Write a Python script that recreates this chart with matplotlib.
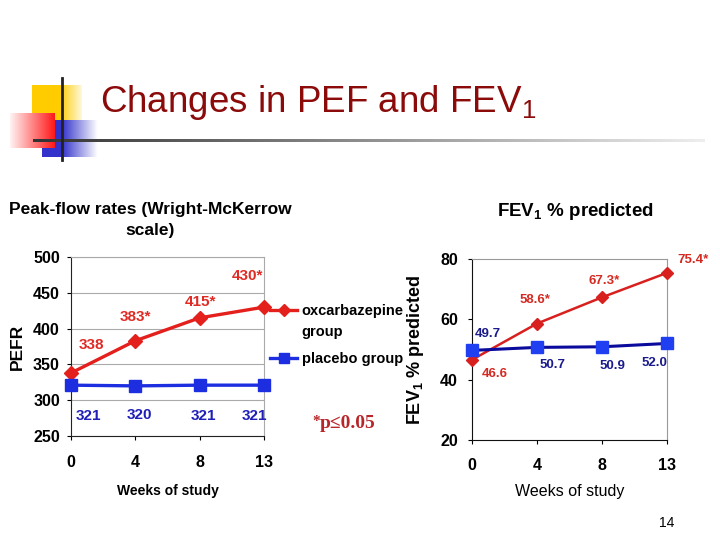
import numpy as np
import matplotlib
matplotlib.use('Agg')
import matplotlib.pyplot as plt

plt.rcParams['font.family'] = ['Liberation Sans', 'DejaVu Sans']
plt.rcParams['mathtext.fontset'] = 'custom'
plt.rcParams['mathtext.rm'] = 'Liberation Sans'
plt.rcParams['mathtext.bf'] = 'Liberation Sans:bold'

# data
weeks = ['0', '4', '8', '13']
pef_oxc = [338, 383, 415, 430]
pef_plc = [321, 320, 321, 321]
pef_oxc_lbl = ['338', '383*', '415*', '430*']
pef_plc_lbl = ['321', '320', '321', '321']
fev_oxc = [46.6, 58.6, 67.3, 75.4]
fev_plc = [49.7, 50.7, 50.9, 52.0]
fev_oxc_lbl = ['46.6', '58.6*', '67.3*', '75.4*']
fev_plc_lbl = ['49.7', '50.7', '50.9', '52.0']

fig = plt.figure(figsize=(7.2, 5.4), dpi=100)

# slide decoration
bg = fig.add_axes([0, 0, 1, 1], zorder=-1)
bg.set_xlim(0, 720)
bg.set_ylim(540, 0)
bg.axis('off')

def grad(c0, c1, n=64, stop=0.0):
    t = np.clip((np.linspace(0, 1, n) - stop) / (1 - stop), 0, 1)
    img = np.array(c0)[None, :] * (1 - t)[:, None] + np.array(c1)[None, :] * t[:, None]
    return img[None, :, :]

bg.imshow(grad((1, 0.8, 0.0), (1, 0.97, 0.85), stop=0.55), extent=(32, 82, 120, 85), aspect='auto')
bg.imshow(grad((0.2, 0.2, 0.8), (1, 1, 1), stop=0.35), extent=(42, 98, 157, 120), aspect='auto')
bg.imshow(grad((1, 0.95, 0.95), (1, 0.1, 0.1)), extent=(10, 55, 148, 113), aspect='auto')
bg.imshow(grad((0.2, 0.2, 0.2), (0.93, 0.93, 0.93)), extent=(33, 705, 142.5, 139.5), aspect='auto')
bg.plot([62, 62], [78, 160], color='#222222', lw=2)

fig.text(100 / 720, 1 - 102 / 540, 'Changes in PEF and FEV$_1$', color='#8b0a0a',
         fontsize=26.5, ha='left', va='center')
fig.text(667 / 720, 1 - 523 / 540, '14', fontsize=10, ha='center', va='center')

red = '#e4201c'
blue = '#1c2ee0'

# left chart: PEF
ax1 = fig.add_axes([71 / 720, 1 - 436 / 540, 193 / 720, 179 / 540])
l_oxc, = ax1.plot(weeks, pef_oxc, color=red, lw=2.4, marker='D', ms=7, zorder=3, clip_on=False)
l_plc, = ax1.plot(weeks, pef_plc, color=blue, lw=2.4, marker='s', ms=8.5, zorder=3, clip_on=False)
ax1.set_xlim(0, 3)
ax1.set_ylim(250, 500)
ax1.set_yticks([250, 300, 350, 400, 450, 500])
ax1.yaxis.grid(True, color='#aaaaaa', lw=0.8)
ax1.set_axisbelow(True)
for s in ['top', 'right']:
    ax1.spines[s].set_color('#aaaaaa')
for s in ['left', 'bottom']:
    ax1.spines[s].set_color('#222222')
ax1.tick_params(labelsize=11.5, length=3, pad=5)
ax1.tick_params(axis='x', pad=11)
for lab in ax1.get_xticklabels() + ax1.get_yticklabels():
    lab.set_fontweight('bold')
ax1.set_xlabel('Weeks of study', fontsize=10, fontweight='bold', labelpad=10)
ax1.set_ylabel('PEFR', fontsize=12.5, fontweight='bold', labelpad=6)
fig.text(150 / 720, 1 - 220 / 540, 'Peak-flow rates (Wright-McKerrow\nscale)', fontsize=12.5,
         fontweight='bold', ha='center', va='center', linespacing=1.55)

off_oxc1 = [(20, 28), (0, 24), (1, 16), (-16, 31)]
off_plc1 = [(17, -31), (4, -29), (4, -31), (-10, -31)]
for x, v, t, o in zip(weeks, pef_oxc, pef_oxc_lbl, off_oxc1):
    ax1.annotate(t, (x, v), xytext=o, textcoords='offset pixels', ha='center', va='center',
                 color='#e02a24', fontsize=11, fontweight='bold')
for x, v, t, o in zip(weeks, pef_plc, pef_plc_lbl, off_plc1):
    ax1.annotate(t, (x, v), xytext=o, textcoords='offset pixels', ha='center', va='center',
                 color='#2020b8', fontsize=11, fontweight='bold')

leg = ax1.legend([l_oxc, l_plc], ['oxcarbazepine', 'placebo group'], loc='upper left',
                 bbox_to_anchor=(1.03, 0.735), frameon=False, borderpad=0, borderaxespad=0,
                 handlelength=1.9, handletextpad=0.3, labelspacing=2.3, numpoints=1,
                 markerscale=0.85, prop={'size': 10.5, 'weight': 'bold'})
ax1.text(1.195, 0.58, 'group', transform=ax1.transAxes, fontsize=10.5, fontweight='bold',
         ha='left', va='center')
ax1.text(1.25, 0.08, '*', transform=ax1.transAxes, fontsize=11, family='Liberation Serif',
         fontweight='bold', color='#b8262a', ha='left', va='center')
ax1.text(1.29, 0.07, 'p\u22640.05', transform=ax1.transAxes, fontsize=14,
         family='Liberation Serif', fontweight='bold', color='#b8262a', ha='left', va='center')

# right chart: FEV1
ax2 = fig.add_axes([472 / 720, 1 - 440 / 540, 195 / 720, 181 / 540])
ax2.plot(weeks, fev_oxc, color='#d8201e', lw=1.8, marker='D', ms=6.5, zorder=3, clip_on=False)
ax2.plot(weeks, fev_plc, color='#0a0a9c', lw=2.2, marker='s', ms=8.5, mfc='#1f3ff0',
         mec='#1f3ff0', zorder=3, clip_on=False)
ax2.set_xlim(0, 3)
ax2.set_ylim(20, 80)
ax2.set_yticks([20, 40, 60, 80])
for s in ['top', 'right']:
    ax2.spines[s].set_color('#999999')
for s in ['left', 'bottom']:
    ax2.spines[s].set_color('#111111')
ax2.tick_params(labelsize=11.5, length=3, pad=7)
ax2.tick_params(axis='x', pad=10)
for lab in ax2.get_xticklabels() + ax2.get_yticklabels():
    lab.set_fontweight('bold')
ax2.set_xlabel('Weeks of study', fontsize=11.5, labelpad=8)
ax2.set_ylabel(r'FEV$_\mathbf{1}$ % predicted', fontsize=13, fontweight='bold', labelpad=10)
fig.text(575 / 720, 1 - 211 / 540, r'FEV$_\mathbf{1}$ % predicted', fontsize=13.5,
         fontweight='bold', ha='center', va='center')

off_oxc2 = [(23, -14), (-2, 24), (2, 16), (26, 13)]
off_plc2 = [(16, 16), (16, -18), (10, -19), (-13, -20)]
for x, v, t, o in zip(weeks, fev_oxc, fev_oxc_lbl, off_oxc2):
    ax2.annotate(t, (x, v), xytext=o, textcoords='offset pixels', ha='center', va='center',
                 color='#d42a22', fontsize=9.5, fontweight='bold')
for x, v, t, o in zip(weeks, fev_plc, fev_plc_lbl, off_plc2):
    ax2.annotate(t, (x, v), xytext=o, textcoords='offset pixels', ha='center', va='center',
                 color='#1a1a8c', fontsize=9.5, fontweight='bold')

fig.savefig('out.png', dpi=100)
